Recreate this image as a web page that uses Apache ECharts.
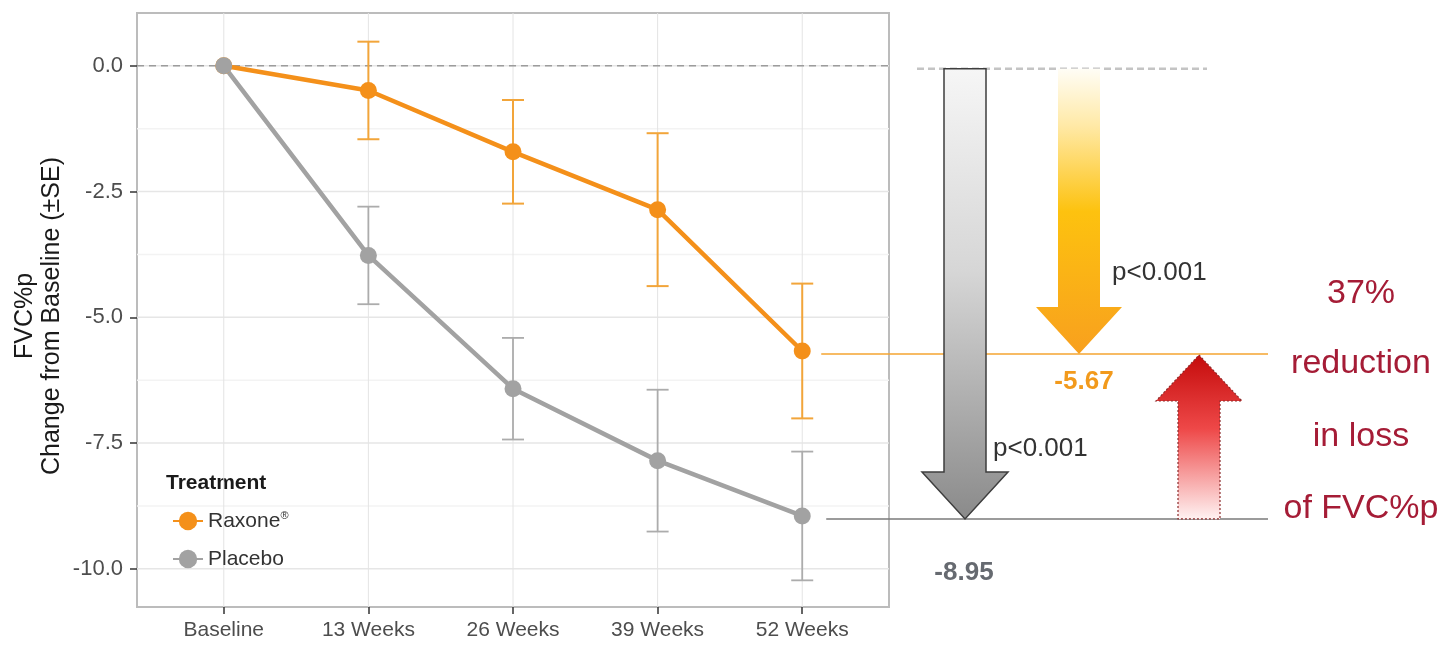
<!DOCTYPE html>
<html>
<head>
<meta charset="utf-8">
<script src="https://cdn.jsdelivr.net/npm/echarts@6/dist/echarts.min.js"></script>
<style>
  html, body { margin: 0; padding: 0; background: #ffffff; }
  #chart { width: 1445px; height: 645px; }
</style>
</head>
<body>
<div id="chart"></div>
<script>
// Visits and mean change in FVC%p from baseline (±SE) per treatment arm
const categories  = ['Baseline', '13 Weeks', '26 Weeks', '39 Weeks', '52 Weeks'];
const raxoneMean  = [0, -0.49, -1.71, -2.86, -5.67];
const raxoneSE    = [0, 0.97, 1.03, 1.52, 1.34];
const placeboMean = [0, -3.77, -6.42, -7.85, -8.95];
const placeboSE   = [0, 0.97, 1.01, 1.41, 1.28];

// Axis ticks and grid
const yMajorTicks = [0, -2.5, -5, -7.5, -10];
const yMinorTicks = [-1.25, -3.75, -6.25, -8.75];
const xTicks      = [0, 1, 2, 3, 4];

// Annotation texts
const pValueText   = 'p<0.001';
const reductionLines = ['37%', 'reduction', 'in loss', 'of FVC%p'];

const FONT = '"Liberation Sans", Arial, Helvetica, sans-serif';
const ORANGE = '#f4901a';
const GREY = '#a2a2a2';

const chart = echarts.init(document.getElementById('chart'), null, { renderer: 'canvas' });

function pointsOf(means) {
  return means.map((v, i) => [i, v]);
}
function barsOf(means, se) {
  return means.map((v, i) => [i, v - se[i], v + se[i]]).filter(d => d[2] - d[1] > 0);
}

function errorBarRenderer(color, width) {
  return function (params, api) {
    const x = api.value(0);
    const top = api.coord([x, api.value(2)]);
    const bot = api.coord([x, api.value(1)]);
    const half = 11;
    const style = { stroke: color, lineWidth: width };
    return {
      type: 'group',
      children: [
        { type: 'line', shape: { x1: top[0], y1: top[1], x2: bot[0], y2: bot[1] }, style },
        { type: 'line', shape: { x1: top[0] - half, y1: top[1], x2: top[0] + half, y2: top[1] }, style },
        { type: 'line', shape: { x1: bot[0] - half, y1: bot[1], x2: bot[0] + half, y2: bot[1] }, style }
      ]
    };
  };
}

function hGridRenderer(color) {
  return function (params, api) {
    const cs = params.coordSys;
    const y = api.coord([0, api.value(1)])[1];
    return {
      type: 'line',
      shape: { x1: cs.x, y1: y, x2: cs.x + cs.width, y2: y },
      style: { stroke: color, lineWidth: 1.5 }
    };
  };
}

function vGridRenderer(params, api) {
  const cs = params.coordSys;
  const x = api.coord([api.value(0), 0])[0];
  return {
    type: 'line',
    shape: { x1: x, y1: cs.y, x2: x, y2: cs.y + cs.height },
    style: { stroke: '#e4e4e4', lineWidth: 1 }
  };
}

function zeroLineRenderer(params, api) {
  const cs = params.coordSys;
  const y = api.coord([0, api.value(1)])[1];
  return {
    type: 'line',
    shape: { x1: cs.x, y1: y, x2: cs.x + cs.width, y2: y },
    style: { stroke: '#9c9c9c', lineWidth: 1.5, lineDash: [7, 5] }
  };
}

function grad(stops) {
  return new echarts.graphic.LinearGradient(0, 0, 0, 1, stops.map(s => ({ offset: s[0], color: s[1] })));
}

function downArrow(cx, shaftHalf, headHalf, yTop, yTip, headLen) {
  const yb = yTip - headLen;
  return [
    [cx - shaftHalf, yTop], [cx + shaftHalf, yTop], [cx + shaftHalf, yb],
    [cx + headHalf, yb], [cx, yTip], [cx - headHalf, yb], [cx - shaftHalf, yb]
  ];
}
function upArrow(cx, shaftHalf, headHalf, yTip, yBottom, headLen) {
  const yb = yTip + headLen;
  return [
    [cx, yTip], [cx + headHalf, yb], [cx + shaftHalf, yb], [cx + shaftHalf, yBottom],
    [cx - shaftHalf, yBottom], [cx - shaftHalf, yb], [cx - headHalf, yb]
  ];
}

function txt(x, y, text, opts) {
  return {
    type: 'text',
    x: x, y: y,
    style: Object.assign({
      text: text,
      fontFamily: FONT,
      fontSize: 26,
      fill: '#333333',
      align: 'left', verticalAlign: 'middle',
      textAlign: 'left', textVerticalAlign: 'middle'
    }, opts || {})
  };
}

// Right-hand summary: arrows from baseline to week-52 means and the difference between arms
function summaryRenderer(params, api) {
  const shift = 3;
  const x52 = api.value(0);
  const y0 = api.coord([x52, 0])[1] + shift;
  const yR = api.coord([x52, api.value(1)])[1] + shift;
  const yP = api.coord([x52, api.value(2)])[1] + shift;
  const pt52 = api.coord([x52, 0])[0];

  const children = [
    // reference lines
    { type: 'line', shape: { x1: 917, y1: y0, x2: 1207, y2: y0 },
      style: { stroke: '#c4c4c4', lineWidth: 2.5, lineDash: [7, 4] } },
    { type: 'line', shape: { x1: pt52 + 19, y1: yR, x2: 1268, y2: yR },
      style: { stroke: '#f5a531', lineWidth: 1.5 } },
    { type: 'line', shape: { x1: pt52 + 24, y1: yP, x2: 1268, y2: yP },
      style: { stroke: '#7a7a7a', lineWidth: 1.5 } },

    // placebo decline
    { type: 'polygon', shape: { points: downArrow(965, 21, 43, y0, yP, 47) },
      style: { fill: grad([[0, '#f6f6f6'], [0.45, '#d6d6d6'], [1, '#8a8a8a']]),
               stroke: '#3e3e3e', lineWidth: 1.5 } },
    // active-arm decline
    { type: 'polygon', shape: { points: downArrow(1079, 21, 43, y0, yR, 47) },
      style: { fill: grad([[0, '#fffdf6'], [0.2, '#ffe9a6'], [0.5, '#fdc20f'], [1, '#f8a01e']]) } },
    // difference between arms
    { type: 'polygon', shape: { points: upArrow(1199, 21, 43, yR + 1, yP, 46) },
      style: { fill: grad([[0, '#c40b0b'], [0.45, '#ee4848'], [1, '#fff3f3']]),
               stroke: '#8c2b2b', lineWidth: 1.2, lineDash: [2, 2] } },

    // labels
    txt(1112, yR - 81, pValueText),
    txt(993, yP - 70, pValueText),
    txt(1084, yR + 28, api.value(1).toFixed(2),
        { fontWeight: 'bold', fill: '#f29a1c', align: 'center', textAlign: 'center' }),
    txt(964, yP + 54, api.value(2).toFixed(2),
        { fontWeight: 'bold', fill: '#666a70', align: 'center', textAlign: 'center' })
  ];

  const redY = [294, 364, 437, 509];
  reductionLines.forEach((line, i) => {
    children.push(txt(1361, redY[i], line,
      { fontSize: 34, fill: '#a51c36', align: 'center', textAlign: 'center' }));
  });

  return { type: 'group', children };
}

const option = {
  animation: false,
  backgroundColor: '#ffffff',
  textStyle: { fontFamily: FONT },
  grid: {
    left: 137, right: 556, top: 13, bottom: 38,
    show: true, borderColor: '#bcbcbc', borderWidth: 2, backgroundColor: 'transparent'
  },
  xAxis: {
    type: 'value', min: -0.6, max: 4.6,
    axisLine: { show: false, onZero: false },
    splitLine: { show: false },
    axisTick: { show: true, customValues: xTicks, length: 7, lineStyle: { color: '#333', width: 1.5 } },
    axisLabel: {
      customValues: xTicks, margin: 13,
      formatter: v => categories[Math.round(v)] || '',
      fontSize: 21, color: '#4d4d4d', fontFamily: FONT
    }
  },
  yAxis: {
    type: 'value', min: -10.76, max: 1.05,
    axisLine: { show: false, onZero: false },
    splitLine: { show: false },
    axisTick: { show: true, customValues: yMajorTicks, length: 7, lineStyle: { color: '#333', width: 1.5 } },
    axisLabel: {
      customValues: yMajorTicks, margin: 14,
      formatter: v => v.toFixed(1),
      fontSize: 22, color: '#4d4d4d', fontFamily: FONT
    }
  },
  legend: {
    data: ['Raxone®', 'Placebo'],
    orient: 'vertical', left: 167, top: 505,
    itemWidth: 30, itemHeight: 23, itemGap: 17,
    selectedMode: false,
    formatter: name => name === 'Raxone®' ? '{n|Raxone}{s|®}' : '{n|' + name + '}',
    textStyle: {
      fontFamily: FONT, color: '#333',
      rich: {
        n: { fontSize: 21, fontFamily: FONT, color: '#333', lineHeight: 22 },
        s: { fontSize: 11, fontFamily: FONT, color: '#333', verticalAlign: 'top', lineHeight: 22 }
      }
    }
  },
  graphic: [
    {
      type: 'text', x: 39, y: 316, rotation: Math.PI / 2,
      style: {
        text: 'FVC%p\nChange from Baseline (±SE)',
        fontFamily: FONT, fontSize: 25, fill: '#1a1a1a', lineHeight: 27,
        align: 'center', verticalAlign: 'middle', textAlign: 'center', textVerticalAlign: 'middle'
      }
    },
    {
      type: 'text', x: 166, y: 483,
      style: {
        text: 'Treatment', fontFamily: FONT, fontSize: 21, fontWeight: 'bold', fill: '#1a1a1a',
        align: 'left', verticalAlign: 'middle', textAlign: 'left', textVerticalAlign: 'middle'
      }
    }
  ],
  series: [
    { type: 'custom', name: 'minorGrid', silent: true, z: 0,
      renderItem: hGridRenderer('#f3f3f3'), data: yMinorTicks.map(v => [0, v]) },
    { type: 'custom', name: 'majorGrid', silent: true, z: 0,
      renderItem: hGridRenderer('#e6e6e6'), data: yMajorTicks.map(v => [0, v]) },
    { type: 'custom', name: 'xGrid', silent: true, z: 0,
      renderItem: vGridRenderer, data: xTicks.map(v => [v, 0]) },
    { type: 'custom', name: 'zeroLine', silent: true, z: 1,
      renderItem: zeroLineRenderer, data: [[0, 0]] },
    { type: 'custom', name: 'raxoneSE', silent: true, z: 2,
      renderItem: errorBarRenderer('#f2a53a', 2), data: barsOf(raxoneMean, raxoneSE) },
    { type: 'custom', name: 'placeboSE', silent: true, z: 2,
      renderItem: errorBarRenderer('#acacac', 1.8), data: barsOf(placeboMean, placeboSE) },
    {
      name: 'Raxone®', type: 'line', z: 3, silent: true,
      data: pointsOf(raxoneMean),
      symbol: 'circle', symbolSize: 17,
      lineStyle: { color: ORANGE, width: 4.5 },
      itemStyle: { color: ORANGE }
    },
    {
      name: 'Placebo', type: 'line', z: 3, silent: true,
      data: pointsOf(placeboMean),
      symbol: 'circle', symbolSize: 17,
      lineStyle: { color: GREY, width: 4.5 },
      itemStyle: { color: GREY }
    },
    {
      type: 'custom', name: 'summary', silent: true, z: 4, clip: false,
      renderItem: summaryRenderer,
      data: [[4, raxoneMean[4], placeboMean[4]]]
    }
  ]
};

chart.setOption(option);
</script>
</body>
</html>
